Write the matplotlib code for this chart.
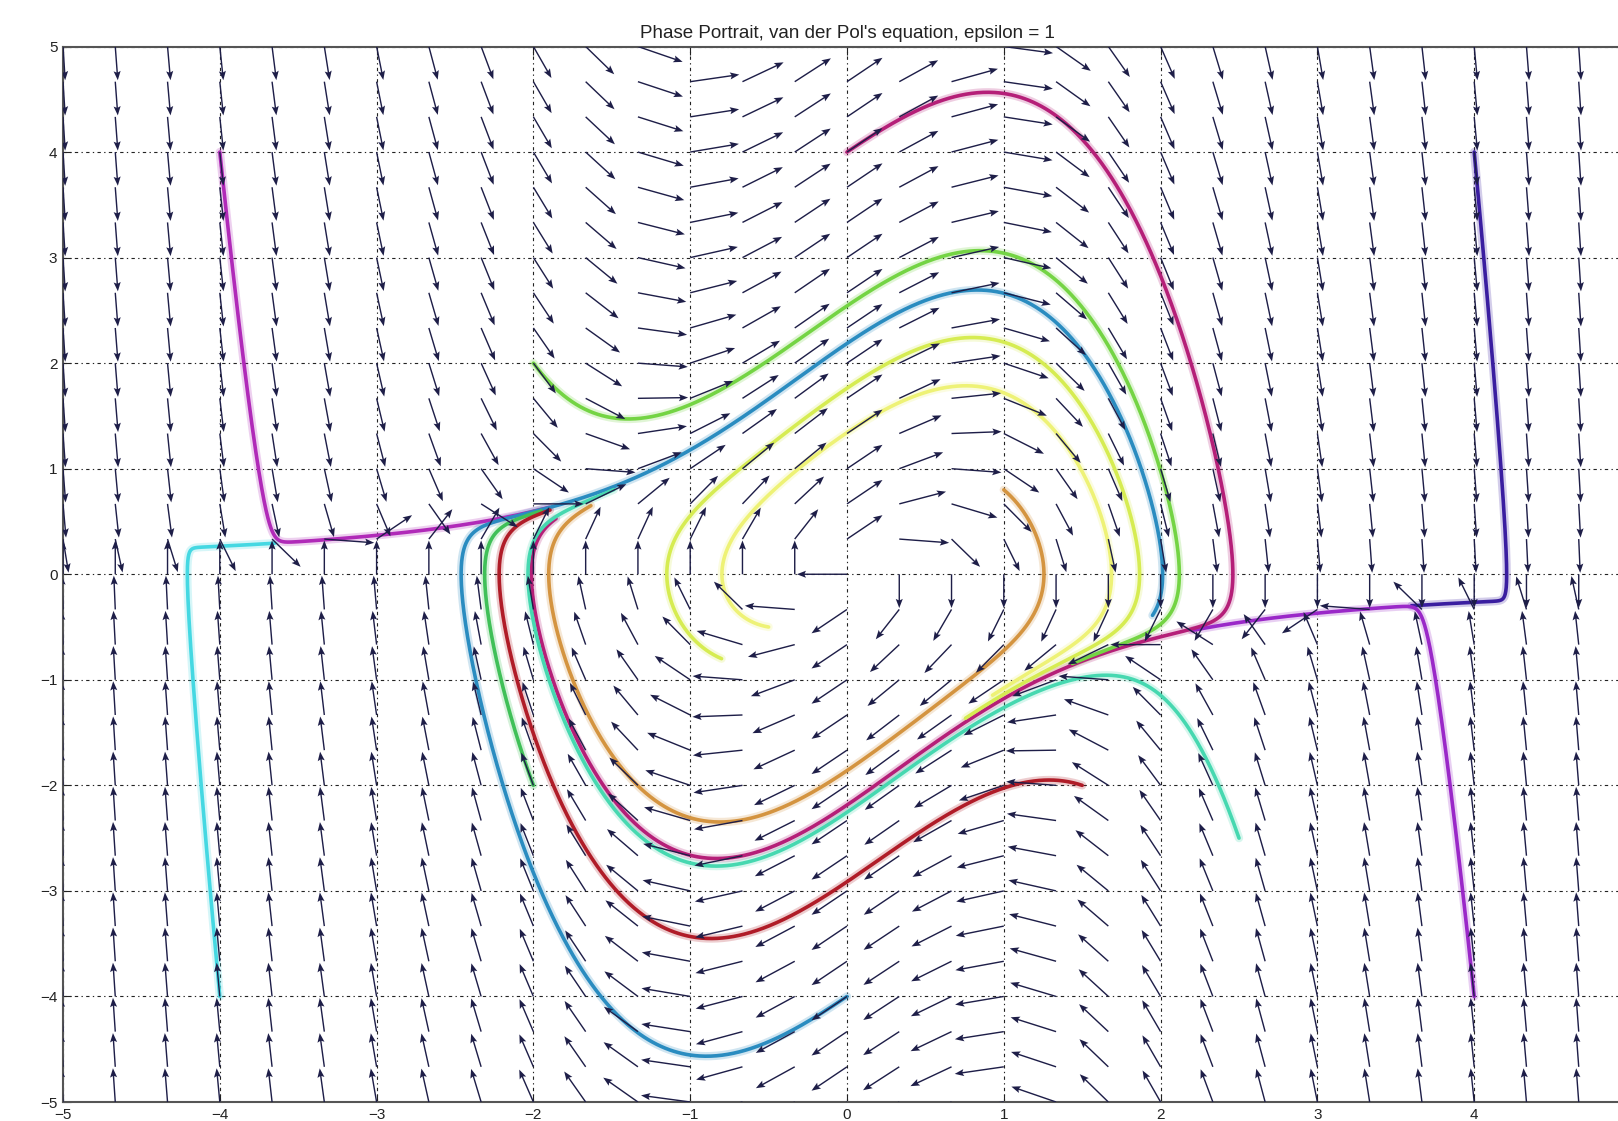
import numpy as np
import matplotlib
matplotlib.use("Agg")
import matplotlib.pyplot as plt

# ---------------- data ----------------
epsilon = 1.0
title = "Phase Portrait, van der Pol's equation, epsilon = 1"
x_ticks = [-5, -4, -3, -2, -1, 0, 1, 2, 3, 4, 5]
x_tick_labels = ["\u22125", "\u22124", "\u22123", "\u22122", "\u22121", "0", "1", "2", "3", "4", ""]
y_ticks = [-5, -4, -3, -2, -1, 0, 1, 2, 3, 4, 5]
field_step = 1.0 / 3.0          # spacing of the direction-field grid
arrow_len = 0.32                # length of each normalised field arrow

# trajectory start points
start_x = [-4.0, -4.0, 4.0, 4.0, 0.0, 0.0, -2.0, -2.0, 1.5, 2.5, 1.0, -0.5, -0.8]
start_y = [4.0, -4.0, 4.0, -4.0, 4.0, -4.0, 2.0, -2.0, -2.0, -2.5, 0.8, -0.5, -0.8]
# approximate points where each trajectory stops
end_x = [-1.9, -3.65, 3.6, 2.2, -1.9, 2.0, 1.4, -1.95, -1.9, -1.5, -1.64, 0.95, 0.75]
end_y = [0.63, 0.30, -0.30, -0.53, 0.62, -0.44, -0.72, 0.60, 0.63, 0.85, 0.67, -1.2, -1.35]
traj_colors = ["#b02ab8", "#45d8e2", "#3a1ea0", "#9a28c8", "#b51f78", "#2a8cc0",
               "#74d444", "#40c058", "#b01c28", "#46d8b0", "#d49440", "#eef276",
               "#d6ec52"]


def vdp(S):
    x, y = S
    return np.array([y, epsilon * (1.0 - x * x) * y - x])


# ---------------- integrate trajectories (RK4) ----------------
S = np.array([start_x, start_y], dtype=float)
dt = 0.002
nsteps = 6000
path = np.empty((nsteps + 1, 2, S.shape[1]))
path[0] = S
for i in range(nsteps):
    k1 = vdp(S)
    k2 = vdp(S + 0.5 * dt * k1)
    k3 = vdp(S + 0.5 * dt * k2)
    k4 = vdp(S + dt * k3)
    S = S + dt / 6.0 * (k1 + 2 * k2 + 2 * k3 + k4)
    path[i + 1] = S

# ---------------- figure ----------------
W, H = 1618, 1121
fig = plt.figure(figsize=(W / 100, H / 100), dpi=100)
ax_left, ax_right, ax_top, ax_bottom = 63, 1631, 46.5, 1102
ax = fig.add_axes([ax_left / W, (H - ax_bottom) / H,
                   (ax_right - ax_left) / W, (ax_bottom - ax_top) / H])
ax.set_xlim(-5, 5)
ax.set_ylim(-5, 5)

# trajectories
px_x = (ax_right - ax_left) / 10.0
px_y = (ax_bottom - ax_top) / 10.0
for j, c in enumerate(traj_colors):
    X = path[:, 0, j]
    Y = path[:, 1, j]
    d = np.hypot((X - end_x[j]) * px_x, (Y - end_y[j]) * px_y)
    idx = np.where(d < 22)[0]
    if len(idx):
        k = idx[0]
        while k + 1 < len(d) and d[k + 1] <= d[k]:
            k += 1
    else:
        k = int(np.argmin(d))
    ax.plot(X[:k + 1], Y[:k + 1], color=c, lw=6, alpha=0.22,
            solid_capstyle="round", zorder=2)
    ax.plot(X[:k + 1], Y[:k + 1], color=c, lw=2.6,
            solid_capstyle="round", zorder=2.1)

# direction field
g = np.arange(-5, 5 + 1e-9, field_step)
GX, GY = np.meshgrid(g, g)
U, V = vdp(np.array([GX, GY]))
M = np.hypot(U, V)
M[M == 0] = np.nan
ax.quiver(GX, GY, arrow_len * U / M, arrow_len * V / M,
          angles="xy", scale_units="xy", scale=1,
          color="#1e1e48", width=0.0009, headwidth=5, headlength=6.5,
          headaxislength=5.5, zorder=3)

# axes styling
ax.set_xticks(x_ticks)
ax.set_xticklabels(x_tick_labels)
ax.set_yticks(y_ticks)
ax.grid(True, color="#222222", lw=0.8, linestyle=(0, (3, 3, 1.2, 3)))
ax.set_axisbelow(True)
ax.tick_params(direction="in", length=6, top=True, right=True,
               labelsize=11, colors="#222222", pad=4)
for lab in ax.get_xticklabels() + ax.get_yticklabels():
    lab.set_family("Liberation Sans")
for sp in ax.spines.values():
    sp.set_color("#555555")
    sp.set_linewidth(1.5)
ax.set_title(title, fontsize=13.5, family="Liberation Sans", pad=6,
             color="#222222")

fig.savefig("out.png", dpi=100)
